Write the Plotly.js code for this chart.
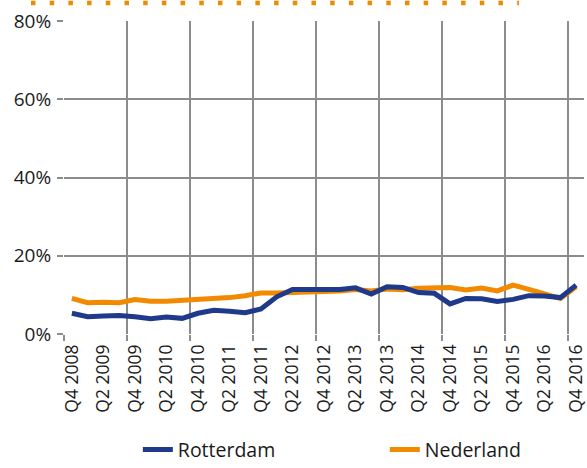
<!DOCTYPE html>
<html>
<head>
<meta charset="utf-8">
<script src="https://cdn.plot.ly/plotly-3.0.1.min.js"></script>
<style>html,body{margin:0;padding:0;background:#fff;}#chart{width:587px;height:468px;}</style>
</head>
<body>
<div id="chart"></div>
<script>
const quarters = [
  "Q4 2008","Q1 2009","Q2 2009","Q3 2009","Q4 2009","Q1 2010","Q2 2010","Q3 2010",
  "Q4 2010","Q1 2011","Q2 2011","Q3 2011","Q4 2011","Q1 2012","Q2 2012","Q3 2012",
  "Q4 2012","Q1 2013","Q2 2013","Q3 2013","Q4 2013","Q1 2014","Q2 2014","Q3 2014",
  "Q4 2014","Q1 2015","Q2 2015","Q3 2015","Q4 2015","Q1 2016","Q2 2016","Q3 2016","Q4 2016"
];
const rotterdam = [5.3,4.4,4.6,4.7,4.4,3.9,4.35,4.0,5.3,6.05,5.8,5.45,6.4,9.5,11.4,11.4,
  11.1,11.4,11.8,10.2,12.1,11.9,10.6,10.4,7.7,9.1,9.0,8.3,8.85,9.8,9.7,9.3,12.5];
const nederland = [9.1,8.0,8.1,8.0,8.8,8.35,8.4,8.6,8.8,8.85,9.3,9.8,10.5,10.5,10.6,10.7,
  10.8,11.0,11.4,11.0,11.5,11.3,11.7,11.75,11.9,11.25,11.75,11.0,12.5,11.4,10.4,9.1,12.1];
const seriesNames = ["Rotterdam","Nederland"];
const yTicks = [0,20,40,60,80];
const yTickText = ["0%","20%","40%","60%","80%"];

const tickLabels = quarters.filter((q,i)=>i%2===0);
const idx = quarters.map((q,i)=>i);
const boundaries = idx.filter(i=>i%4===0).map(i=>i-0.5);

const blue = "#1f3a8b", orange = "#f28a00", grid = "#8c8c8c";
const font = "'Open Sans', 'Noto Sans', sans-serif";

const traces = [
  {x: idx, y: rotterdam, name: seriesNames[0], type: "scatter", mode: "lines",
   line: {color: blue, width: 5}, xaxis: "x2"},
  {x: idx, y: nederland, name: seriesNames[1], type: "scatter", mode: "lines",
   line: {color: orange, width: 5}}
];

const layout = {
  width: 587, height: 468,
  margin: {l: 64, r: 3, t: 21, b: 134, autoexpand: false},
  paper_bgcolor: "#fff", plot_bgcolor: "#fff",
  font: {family: font, color: "#1a1a1a"},
  showlegend: true,
  xaxis: {
    range: [-0.5, quarters.length - 0.5], automargin: false,
    tickmode: "array", tickvals: idx.filter(i=>i%2===0), ticktext: tickLabels,
    tickangle: -90, showgrid: false, zeroline: false, showline: false,
    ticks: "", ticklabelstandoff: 6,
    tickfont: {size: 17.5, family: font, color: "#1a1a1a"}
  },
  xaxis2: {
    overlaying: "x", anchor: "y", side: "bottom", automargin: false,
    range: [-0.5, quarters.length - 0.5],
    tickmode: "array", tickvals: boundaries,
    showticklabels: false, showgrid: true, gridcolor: grid, gridwidth: 2,
    ticks: "outside", ticklen: 6, tickwidth: 2, tickcolor: grid,
    zeroline: false, showline: false
  },
  yaxis: {
    range: [0, 80], tickmode: "array", tickvals: yTicks, ticktext: yTickText,
    automargin: false,
    showgrid: true, gridcolor: grid, gridwidth: 2, zeroline: false, showline: false,
    ticks: "outside", ticklen: 6, tickwidth: 2, tickcolor: grid,
    ticklabelstandoff: 2,
    tickfont: {size: 19, family: font, color: "#1a1a1a"}
  },
  legend: {
    orientation: "h", x: 0.142, xanchor: "left", y: -0.37, yanchor: "middle",
    font: {size: 19.5, family: font, color: "#1a1a1a"},
    entrywidth: 202, entrywidthmode: "pixels", itemwidth: 30,
    bgcolor: "rgba(0,0,0,0)"
  },
  shapes: [{
    type: "line", xref: "paper", yref: "paper",
    x0: -0.0635, x1: 0.875, y0: 1.0575, y1: 1.0575,
    line: {color: orange, width: 4.5, dash: "4.5px,14.2px"}
  }]
};

Plotly.newPlot("chart", traces, layout, {displayModeBar: false, staticPlot: true});
</script>
</body>
</html>
